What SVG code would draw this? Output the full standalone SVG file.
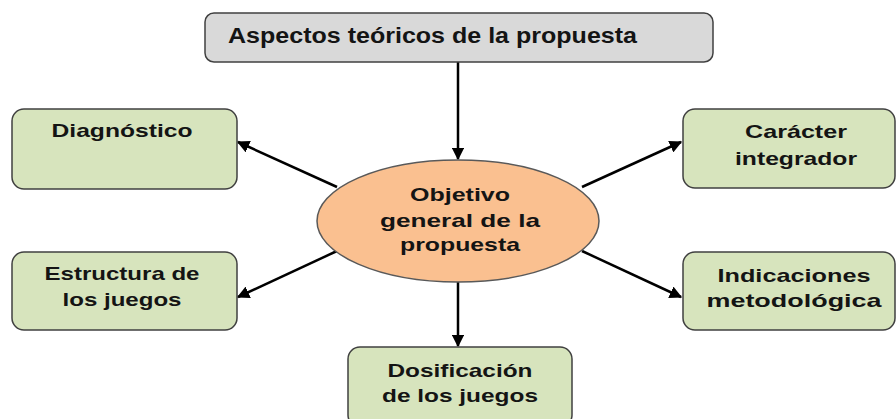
<svg xmlns="http://www.w3.org/2000/svg" width="896" height="419" viewBox="0 0 896 419">
<defs>
<marker id="ah" viewBox="0 0 10 10" refX="9" refY="5" markerWidth="5" markerHeight="5" orient="auto" markerUnits="strokeWidth">
<path d="M0,0 L10,5 L0,10 Z" fill="#000"/>
</marker>
<style>
.box{stroke:#404040;stroke-width:1.5}
.gray{fill:#d9d9d9}
.green{fill:#d7e4bd}
.oval{fill:#fac090;stroke:#595959;stroke-width:1.5}
.t{font-family:"Liberation Sans",Arial,sans-serif;font-weight:bold;fill:#141414;font-size:19px}
.big{font-size:22px}
.conn{stroke:#000;stroke-width:2.5;fill:none;marker-end:url(#ah)}
</style>
</defs>
<rect width="896" height="419" fill="#fff"/>
<g id="connectors">
<line class="conn" x1="458" y1="62" x2="458" y2="159"/>
<line class="conn" x1="458" y1="282" x2="458" y2="346"/>
<line class="conn" x1="337" y1="187" x2="238" y2="142"/>
<line class="conn" x1="582" y1="187" x2="681" y2="142"/>
<line class="conn" x1="337" y1="251" x2="238" y2="297"/>
<line class="conn" x1="582" y1="251" x2="681" y2="297"/>
</g>
<g id="aspectos">
<rect class="box gray" x="205" y="13" width="508" height="49" rx="9"/>
<text class="t big" x="228" y="43" textLength="409" lengthAdjust="spacingAndGlyphs">Aspectos teóricos de la propuesta</text>
</g>
<g id="objetivo">
<ellipse class="oval" cx="458" cy="221" rx="141" ry="61"/>
<text class="t" x="460" y="201" text-anchor="middle" textLength="100" lengthAdjust="spacingAndGlyphs">Objetivo</text>
<text class="t" x="460" y="227" text-anchor="middle" textLength="160" lengthAdjust="spacingAndGlyphs">general de la</text>
<text class="t" x="460" y="251" text-anchor="middle" textLength="120" lengthAdjust="spacingAndGlyphs">propuesta</text>
</g>
<g id="diagnostico">
<rect class="box green" x="12" y="109" width="225" height="80" rx="12"/>
<text class="t" x="122" y="137" text-anchor="middle" textLength="141" lengthAdjust="spacingAndGlyphs">Diagnóstico</text>
</g>
<g id="caracter">
<rect class="box green" x="683" y="109" width="212" height="79" rx="12"/>
<text class="t" x="796" y="138" text-anchor="middle" textLength="102" lengthAdjust="spacingAndGlyphs">Carácter</text>
<text class="t" x="796" y="165" text-anchor="middle" textLength="122" lengthAdjust="spacingAndGlyphs">integrador</text>
</g>
<g id="estructura">
<rect class="box green" x="12" y="252" width="225" height="78" rx="12"/>
<text class="t" x="122" y="280" text-anchor="middle" textLength="155" lengthAdjust="spacingAndGlyphs">Estructura de</text>
<text class="t" x="122" y="306" text-anchor="middle" textLength="119" lengthAdjust="spacingAndGlyphs">los juegos</text>
</g>
<g id="indicaciones">
<rect class="box green" x="683" y="252" width="212" height="78" rx="12"/>
<text class="t" x="794" y="282" text-anchor="middle" textLength="153" lengthAdjust="spacingAndGlyphs">Indicaciones</text>
<text class="t" x="794" y="307" text-anchor="middle" textLength="175" lengthAdjust="spacingAndGlyphs">metodológica</text>
</g>
<g id="dosificacion">
<rect class="box green" x="348" y="347" width="224" height="80" rx="12"/>
<text class="t" x="460" y="377" text-anchor="middle" textLength="145" lengthAdjust="spacingAndGlyphs">Dosificación</text>
<text class="t" x="460" y="402" text-anchor="middle" textLength="156" lengthAdjust="spacingAndGlyphs">de los juegos</text>
</g>
</svg>
